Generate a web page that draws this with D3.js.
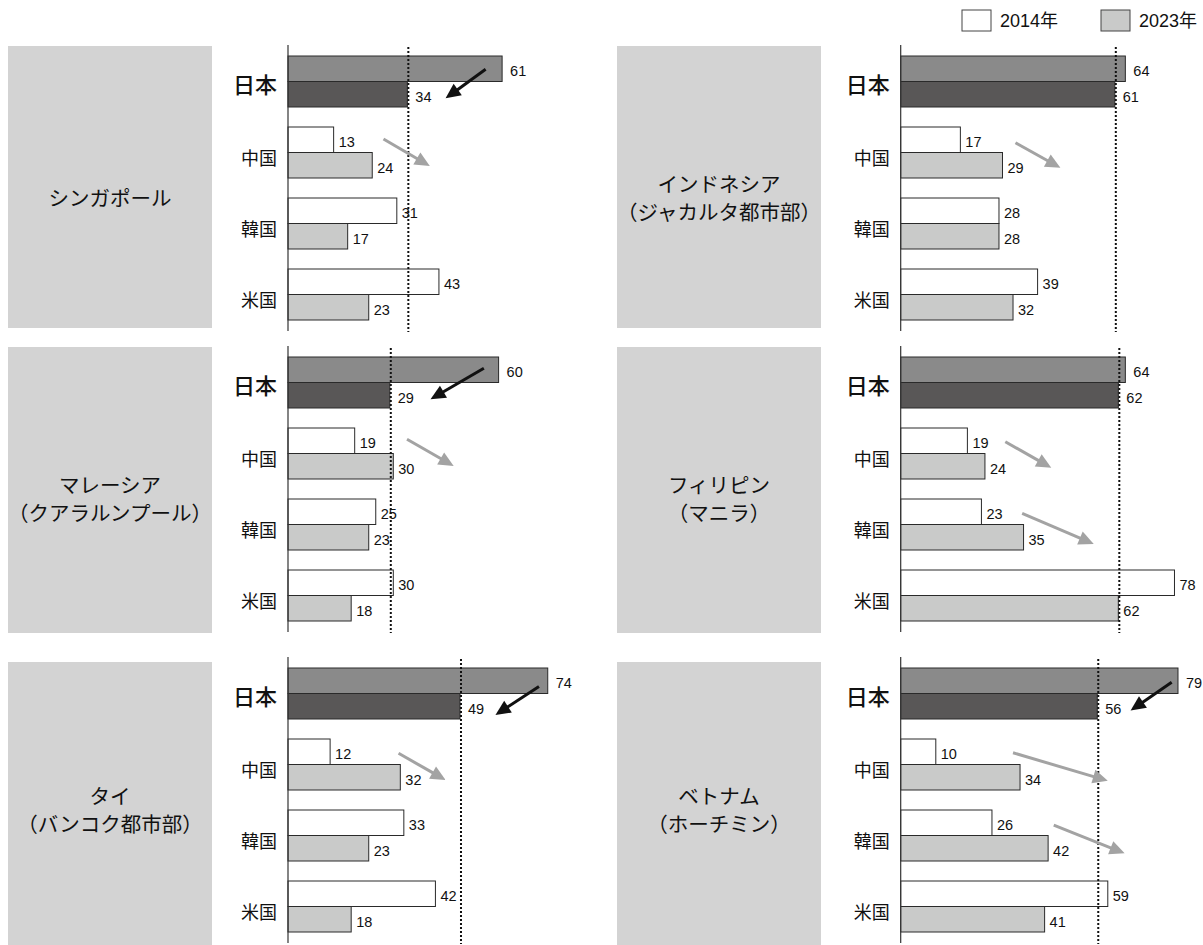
<!DOCTYPE html>
<html><head><meta charset="utf-8">
<script src="https://cdn.jsdelivr.net/npm/d3@7"></script>
<style>
html,body{margin:0;padding:0;background:#fff;}
svg{display:block;}
</style></head>
<body>
<svg id="chart" width="1203" height="945"></svg>
<script>
// ---- data ----
const panelNames = [
  ["シンガポール"],
  ["インドネシア", "（ジャカルタ都市部）"],
  ["マレーシア", "（クアラルンプール）"],
  ["フィリピン", "（マニラ）"],
  ["タイ", "（バンコク都市部）"],
  ["ベトナム", "（ホーチミン）"]
];
const categories = ["日本", "中国", "韓国", "米国"];
const years = ["2014年", "2023年"];
const values2014 = [
  [61, 13, 31, 43],
  [64, 17, 28, 39],
  [60, 19, 25, 30],
  [64, 19, 23, 78],
  [74, 12, 33, 42],
  [79, 10, 26, 59]
];
const values2023 = [
  [34, 24, 17, 23],
  [61, 29, 28, 32],
  [29, 30, 23, 18],
  [62, 24, 35, 62],
  [49, 32, 23, 18],
  [56, 34, 42, 41]
];
// annotation arrows: panel, category, from [value, bar-fraction], to [value, bar-fraction], kind
const arrows = [
  {p: 0, cat: "日本", from: [56.3, 0.52], to: [44.9, 1.66], kind: "dark"},
  {p: 0, cat: "中国", from: [27.2, 0.47], to: [40.4, 1.53], kind: "light"},
  {p: 1, cat: "中国", from: [32.7, 0.62], to: [45.5, 1.60], kind: "light"},
  {p: 2, cat: "日本", from: [55.8, 0.44], to: [40.6, 1.66], kind: "dark"},
  {p: 2, cat: "中国", from: [33.9, 0.44], to: [47.2, 1.49], kind: "light"},
  {p: 3, cat: "中国", from: [29.8, 0.54], to: [42.9, 1.56], kind: "light"},
  {p: 3, cat: "韓国", from: [34.6, 0.56], to: [55.0, 1.76], kind: "light"},
  {p: 4, cat: "日本", from: [71.5, 0.73], to: [59.1, 1.84], kind: "dark"},
  {p: 4, cat: "中国", from: [31.5, 0.56], to: [44.9, 1.61], kind: "light"},
  {p: 5, cat: "日本", from: [77.2, 0.56], to: [65.5, 1.67], kind: "dark"},
  {p: 5, cat: "中国", from: [32.0, 0.54], to: [59.0, 1.64], kind: "light"},
  {p: 5, cat: "韓国", from: [43.6, 0.59], to: [63.8, 1.70], kind: "light"}
];

// ---- layout ----
const svg = d3.select("#chart");
const colAxisX = [288, 900.7];
const colBoxX = [8, 617];
const boxW = 204;
const rowTop = [56, 357, 668];
const rowBoxTop = [46, 347, 662];
const rowBoxH = [282, 286, 290];
const cjk = "'Noto Sans CJK JP', 'Noto Sans', sans-serif";
const num = "'Liberation Sans', Arial, 'Noto Sans CJK JP', sans-serif";

const fillJP = ["#8a8a8a", "#595757"];
const fillOther = ["#ffffff", "#c9cac9"];
const arrowColor = {dark: "#111111", light: "#a3a3a3"};

// Legend
const legend = svg.append("g");
const legendX = [962, 1101];
years.forEach((y, i) => {
  legend.append("rect").attr("x", legendX[i]).attr("y", 10).attr("width", 29).attr("height", 21)
    .attr("fill", fillOther[i]).attr("stroke", "#444").attr("stroke-width", 1);
  legend.append("text").attr("x", legendX[i] + 38).attr("y", 21).attr("dominant-baseline", "central")
    .attr("font-family", num).attr("font-size", 18).attr("fill", "#111").text(y);
});

panelNames.forEach((names, p) => {
  const row = Math.floor(p / 2), col = p % 2;
  const axisX = colAxisX[col];
  const yTop = rowTop[row];
  const g = svg.append("g");

  // label box
  g.append("rect").attr("x", colBoxX[col]).attr("y", rowBoxTop[row])
    .attr("width", boxW).attr("height", rowBoxH[row]).attr("fill", "#d3d3d3");
  const cy = yTop + 141;
  const lh = 28;
  names.forEach((t, i) => {
    g.append("text").attr("x", colBoxX[col] + boxW / 2)
      .attr("y", cy + (i - (names.length - 1) / 2) * lh)
      .attr("text-anchor", "middle").attr("dominant-baseline", "central")
      .attr("font-family", cjk).attr("font-size", 20.5).attr("fill", "#111").text(t);
  });

  const x = d3.scaleLinear().domain([0, 100]).range([axisX, axisX + 351]);
  const y = d3.scaleBand().domain(categories).range([yTop, yTop + 3 * 71 + 51])
    .paddingInner(20 / 71).paddingOuter(0);
  const ySub = d3.scaleBand().domain(years).range([0, y.bandwidth()]);
  const barH = ySub.bandwidth();

  const rows = [];
  categories.forEach((c, ci) => {
    [values2014[p][ci], values2023[p][ci]].forEach((v, yi) => {
      rows.push({cat: c, ci, year: years[yi], yi, v});
    });
  });

  // bars
  g.selectAll("rect.bar").data(rows).enter().append("rect").attr("class", "bar")
    .attr("x", x(0)).attr("y", d => y(d.cat) + ySub(d.year))
    .attr("width", d => x(d.v) - x(0)).attr("height", barH)
    .attr("fill", d => d.ci === 0 ? fillJP[d.yi] : fillOther[d.yi])
    .attr("stroke", "#2a2a2a").attr("stroke-width", 1);

  // value labels
  g.selectAll("text.val").data(rows).enter().append("text").attr("class", "val")
    .attr("x", d => x(d.v) + (d.ci === 0 ? 8 : 5))
    .attr("y", d => y(d.cat) + ySub(d.year) + barH / 2 + 2.5)
    .attr("dominant-baseline", "central")
    .attr("font-family", num).attr("font-size", 14.5).attr("fill", "#111")
    .text(d => d.v);

  // axis line
  g.append("line").attr("x1", axisX).attr("x2", axisX)
    .attr("y1", yTop - 11).attr("y2", yTop + 275)
    .attr("stroke", "#333").attr("stroke-width", 1.2);

  // dotted reference line at Japan 2023
  const ref = x(values2023[p][0]) + 1;
  g.append("line").attr("x1", ref).attr("x2", ref)
    .attr("y1", yTop - 9).attr("y2", yTop + 276)
    .attr("stroke", "#111").attr("stroke-width", 2).attr("stroke-dasharray", "2,2");

  // category labels
  categories.forEach((c, ci) => {
    g.append("text").attr("x", axisX - 11).attr("y", y(c) + y.bandwidth() / 2 + (ci === 0 ? 1.5 : 4))
      .attr("text-anchor", "end").attr("dominant-baseline", "central")
      .attr("font-family", cjk).attr("font-size", ci === 0 ? 22 : 18)
      .attr("font-weight", ci === 0 ? 500 : 400)
      .attr("fill", "#111").text(c);
  });

  // arrows
  arrows.filter(a => a.p === p).forEach(a => {
    const x1 = x(a.from[0]), y1 = y(a.cat) + a.from[1] * barH;
    const x2 = x(a.to[0]), y2 = y(a.cat) + a.to[1] * barH;
    const dx = x2 - x1, dy = y2 - y1, len = Math.hypot(dx, dy);
    const ux = dx / len, uy = dy / len;
    const hl = 15, hw = 7;
    const bx = x2 - ux * hl, by = y2 - uy * hl;
    const col = arrowColor[a.kind];
    g.append("line").attr("x1", x1).attr("y1", y1).attr("x2", bx + ux * 2).attr("y2", by + uy * 2)
      .attr("stroke", col).attr("stroke-width", 3);
    g.append("path")
      .attr("d", `M${x2},${y2}L${bx - uy * hw},${by + ux * hw}L${bx + uy * hw},${by - ux * hw}Z`)
      .attr("fill", col);
  });
});
</script>
</body></html>
